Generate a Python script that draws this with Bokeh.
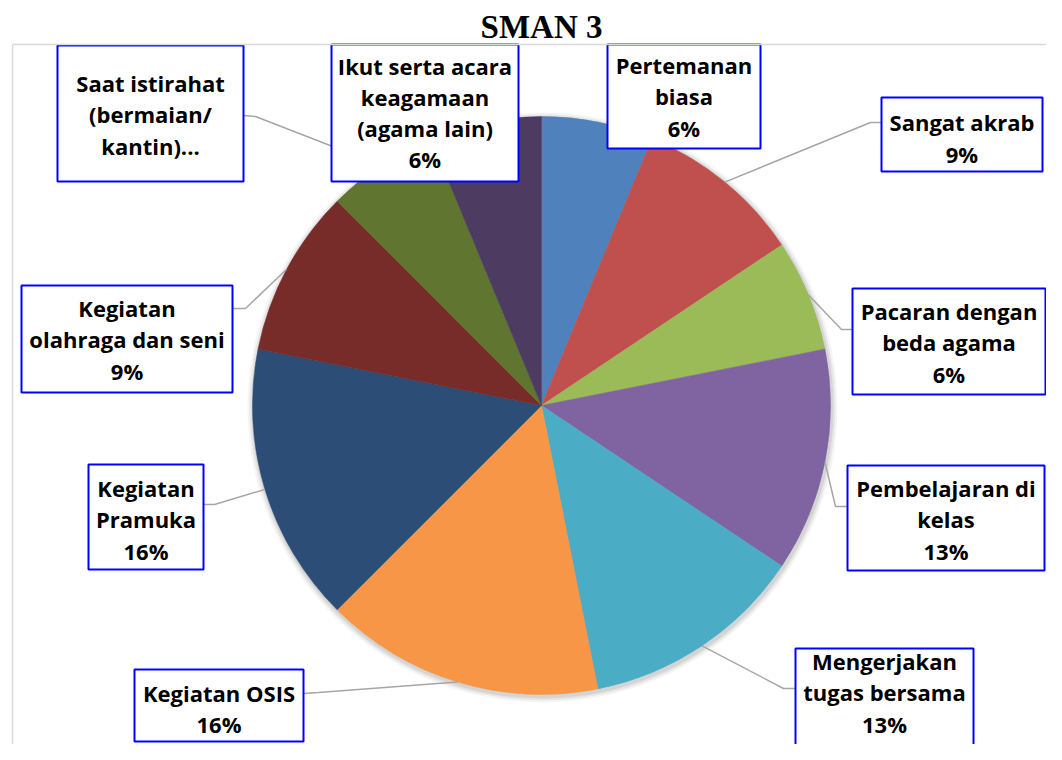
import math
from bokeh.plotting import figure
from bokeh.models import Range1d, ColumnDataSource
from bokeh.embed import file_html
from bokeh.resources import INLINE
from bokeh.core.properties import value

# ---------------- data ----------------
title_text = "SMAN 3"
categories = [
    "Pertemanan biasa",
    "Sangat akrab",
    "Pacaran dengan beda agama",
    "Pembelajaran di kelas",
    "Mengerjakan tugas bersama",
    "Kegiatan OSIS",
    "Kegiatan Pramuka",
    "Kegiatan olahraga dan seni",
    "Saat istirahat (bermaian/ kantin)",
    "Ikut serta acara keagamaan (agama lain)",
]
counts = [2, 3, 2, 4, 4, 5, 5, 3, 2, 2]
label_names = [
    "Pertemanan\nbiasa",
    "Sangat akrab",
    "Pacaran dengan\nbeda agama",
    "Pembelajaran di\nkelas",
    "Mengerjakan\ntugas bersama",
    "Kegiatan OSIS",
    "Kegiatan\nPramuka",
    "Kegiatan\nolahraga dan seni",
    "Saat istirahat\n(bermaian/\nkantin)...",
    "Ikut serta acara\nkeagamaan\n(agama lain)",
]
show_pct = [True, True, True, True, True, True, True, True, False, True]
colors = ["#4F81BD", "#C0504D", "#9BBB59", "#8064A2", "#4BACC6",
          "#F79646", "#2C4D75", "#772C2A", "#5F7530", "#4D3B62"]

# ---------------- layout (picture pixel coordinates) ----------------
W, H = 1046, 744
CX, CY, R = 541, 405, 289
boxes = [(607, 760, 44, 148), (881, 1042, 97, 171), (852, 1045, 288, 394),
         (847, 1044, 465, 570), (795, 973, 648, 753), (134, 303, 669, 741),
         (88, 203, 464, 569), (21, 232, 285, 392), (57, 243, 45, 181),
         (331, 518, 44, 181)]
text_cy = [96, 137.5, 342, 519, 692, 708, 519, 339, 114, 112]
anchors = [None, (881, 122), (852, 329), (847, 506), (795, 688), (303, 693),
           (203, 504), (232, 308), (243, 115), None]
elbows = [None, (870, 122), (841, 329), (835, 506), (783, 688), (318, 692),
          (214, 504), (245, 308), (255, 116), None]


def py(y):
    return H - y


p = figure(width=W, height=H, output_backend="svg", toolbar_location=None,
           x_range=Range1d(0, W), y_range=Range1d(0, H),
           x_axis_type=None, y_axis_type=None, min_border=0)
p.outline_line_color = None
p.grid.grid_line_color = None
p.background_fill_color = "white"
p.border_fill_color = "white"

# shadow
for k, a in [(6, 0.04), (4, 0.06), (2, 0.08)]:
    p.circle(x=[CX + 1], y=[py(CY + 2)], radius=R + k, fill_color="#000000",
             fill_alpha=a, line_color=None)

total = sum(counts)
starts, ends, mids = [], [], []
cum = 0
for c in counts:
    a = cum / total
    b = (cum + c) / total
    starts.append(math.pi / 2 - 2 * math.pi * b)
    ends.append(math.pi / 2 - 2 * math.pi * a)
    mids.append((a + b) / 2)
    cum += c

src = ColumnDataSource(dict(x=[CX] * len(counts), y=[py(CY)] * len(counts),
                            start=starts, end=ends, color=colors, cat=categories))
p.wedge(x="x", y="y", radius=R, start_angle="start", end_angle="end",
        fill_color="color", line_color="color", line_width=0.5, source=src)

# leader lines
xs, ys = [], []
for i in range(len(counts)):
    if anchors[i] is None:
        continue
    ang = 2 * math.pi * mids[i]
    ex = CX + R * math.sin(ang)
    ey = CY - R * math.cos(ang)
    xs.append([anchors[i][0], elbows[i][0], ex])
    ys.append([py(anchors[i][1]), py(elbows[i][1]), py(ey)])
p.multi_line(xs=xs, ys=ys, line_color="#A6A6A6", line_width=1.5)

# label boxes
p.quad(left=[b[0] for b in boxes], right=[b[1] for b in boxes],
       top=[py(b[2]) for b in boxes], bottom=[py(b[3]) for b in boxes],
       fill_color="white", line_color="#0000FF", line_width=2)

labels = []
for i, c in enumerate(counts):
    pct = int(c / total * 100 + 0.5)
    t = label_names[i]
    if show_pct[i]:
        t = t + "\n" + f"{pct}%"
    labels.append(t)

p.text(x=[(b[0] + b[1]) / 2 for b in boxes], y=[py(v) for v in text_cy],
       text=labels, text_align="center", text_baseline="middle",
       text_font=value("Open Sans"), text_font_style="bold", text_font_size="22px",
       text_line_height=1.04, text_color="black")

# chart frame
p.line(x=[12, W], y=[py(44), py(44)], line_color="#D9D9D9", line_width=1.5)
p.line(x=[12, 12], y=[py(44), 0], line_color="#D9D9D9", line_width=1.5)

# title
p.text(x=[541], y=[py(26)], text=[title_text], text_align="center",
       text_baseline="middle", text_font=value("Liberation Serif"),
       text_font_style="bold", text_font_size="33px", text_color="black")

open("out.html", "w").write(file_html(p, INLINE))
